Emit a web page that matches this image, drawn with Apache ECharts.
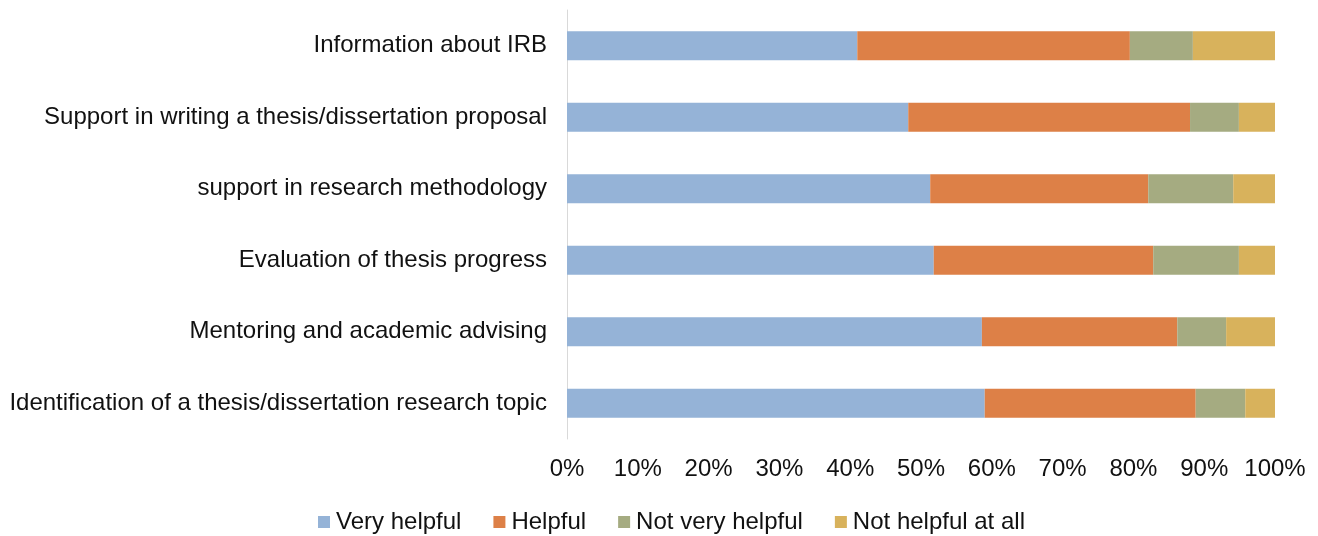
<!DOCTYPE html>
<html>
<head>
<meta charset="utf-8">
<script src="https://cdn.jsdelivr.net/npm/echarts@6/dist/echarts.min.js"></script>
<style>
  html, body { margin: 0; padding: 0; background: #fff; }
  #chart { width: 1318px; height: 536px; }
</style>
</head>
<body>
<div id="chart"></div>
<script>
// categories listed bottom to top (ECharts category axis draws first item at the bottom)
const categories = [
  'Identification of a thesis/dissertation research topic',
  'Mentoring and academic advising',
  'Evaluation of thesis progress',
  'support in research methodology',
  'Support in writing a thesis/dissertation proposal',
  'Information about IRB'
]
const veryHelpful    = [59.0, 58.6, 51.8, 51.3, 48.2, 41.0]
const helpful        = [29.8, 27.6, 31.0, 30.8, 39.8, 38.5]
const notVeryHelpful = [7.0, 6.9, 12.1, 12.0, 6.9, 8.9]
const notHelpfulAll  = [4.2, 6.9, 5.1, 5.9, 5.1, 11.6]

const seriesNames = ['Very helpful', 'Helpful', 'Not very helpful', 'Not helpful at all']
const colors = ['#95b3d7', '#dd8047', '#a5ab81', '#d8b25c']

const chart = echarts.init(document.getElementById('chart'))
const font = 'Liberation Sans, Arial, sans-serif'
const fs = 24

chart.setOption({
  animation: false,
  color: colors,
  textStyle: { fontFamily: font },
  legend: {
    top: 505,
    left: 313,
    itemWidth: 12, itemHeight: 12, itemGap: 32,
    icon: 'rect',
    textStyle: { fontSize: fs, color: '#111', fontFamily: font, padding: [0, 0, 0, 1] },
    data: seriesNames
  },
  grid: { left: 567, right: 43, top: 10, bottom: 97, containLabel: false },
  xAxis: {
    type: 'value', min: 0, max: 100, interval: 10,
    axisLine: { show: false }, axisTick: { show: false },
    splitLine: { show: false },
    axisLabel: { formatter: '{value}%', fontSize: fs, color: '#111', margin: 18, fontFamily: font }
  },
  yAxis: {
    type: 'category', data: categories,
    axisLine: { show: true, lineStyle: { color: '#d9d9d9', width: 1 } },
    axisTick: { show: false },
    axisLabel: { fontSize: fs, color: '#111', margin: 20, fontFamily: font }
  },
  series: [veryHelpful, helpful, notVeryHelpful, notHelpfulAll].map((d, i) => ({
    name: seriesNames[i], type: 'bar', stack: 'total', data: d,
    barWidth: 29
  }))
})
</script>
</body>
</html>
